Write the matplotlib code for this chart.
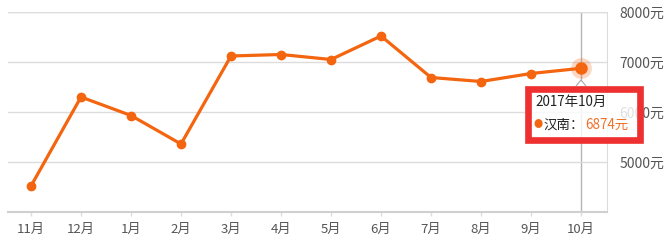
import matplotlib.pyplot as plt
from matplotlib.patches import Rectangle, Polygon
import numpy as np

plt.rcParams['font.family'] = ['Noto Sans CJK SC', 'DejaVu Sans']

# data
months = ["11月", "12月", "1月", "2月", "3月", "4月", "5月", "6月", "7月", "8月", "9月", "10月"]
prices = [4520, 6300, 5930, 5360, 7120, 7150, 7050, 7520, 6690, 6610, 6770, 6874]
yticks = [5000, 6000, 7000, 8000]
tip_title = "2017年10月"
tip_name = "汉南"

orange = "#f4650f"
W, H = 668, 248
fig = plt.figure(figsize=(W / 100, H / 100), dpi=100)
ax = fig.add_axes([8 / W, 36 / H, 599 / W, 200 / H])

x = np.arange(len(months))
ax.plot(x, prices, color=orange, lw=2.3, marker="o", ms=6, zorder=3)

# hovered point
ax.plot(x[-1], prices[-1], "o", color=orange, ms=15, alpha=0.25, mec="none", zorder=4)
ax.plot(x[-1], prices[-1], "o", color=orange, ms=9, mec="none", zorder=5)
ax.axvline(x[-1], color="#b5b5b5", lw=1, zorder=1)

ax.set_xlim(-0.46, 11.52)
ax.set_ylim(4000, 8000)
ax.set_yticks(yticks)
ax.set_yticklabels([f"{v}元" for v in yticks])
ax.yaxis.tick_right()
ax.set_xticks(x)
ax.set_xticklabels(months)
ax.tick_params(axis="y", length=0, pad=9, labelsize=10, labelcolor="#555555")
ax.tick_params(axis="x", length=3, width=1, color="#dddddd", pad=5, labelsize=9.5, labelcolor="#555555")
ax.grid(axis="y", color="#dcdcdc", lw=1)
ax.axhline(8000, color="#dcdcdc", lw=1)
for s in ["left", "top"]:
    ax.spines[s].set_visible(False)
ax.spines["right"].set_color("#dcdcdc")
ax.spines["bottom"].set_color("#d0d0d0")
ax.spines["bottom"].set_linewidth(1.5)

# tooltip (in pixel units of the figure)
def px(xp, yp):
    return xp / W, 1 - yp / H

tf = fig.transFigure
x0, y0 = px(527.5, 140)
x1, y1 = px(640, 88.5)
fig.patches.append(Rectangle((x0, y0), x1 - x0, y1 - y0, transform=tf,
                             facecolor=(1, 1, 1, 0.82), edgecolor="#ef3030", lw=4.8, zorder=10))
fig.patches.append(Polygon([px(576, 86), px(581, 80), px(586, 86)], closed=False, transform=tf,
                           facecolor="white", edgecolor="#aaaaaa", lw=0.8, zorder=11))
fig.text(*px(535, 102), tip_title, transform=tf, fontsize=9.7, color="#222222", va="center", zorder=12)
fig.text(*px(533, 125), "●", transform=tf, fontsize=6.5, color=orange, va="center", zorder=12)
fig.text(*px(543, 125), tip_name + "：", transform=tf, fontsize=9.7, color="#222222", va="center", zorder=12)
fig.text(*px(585, 125), f"{prices[-1]}元", transform=tf, fontsize=9.7, color="#f07028", va="center", zorder=12)

fig.savefig("out.png", dpi=100)
